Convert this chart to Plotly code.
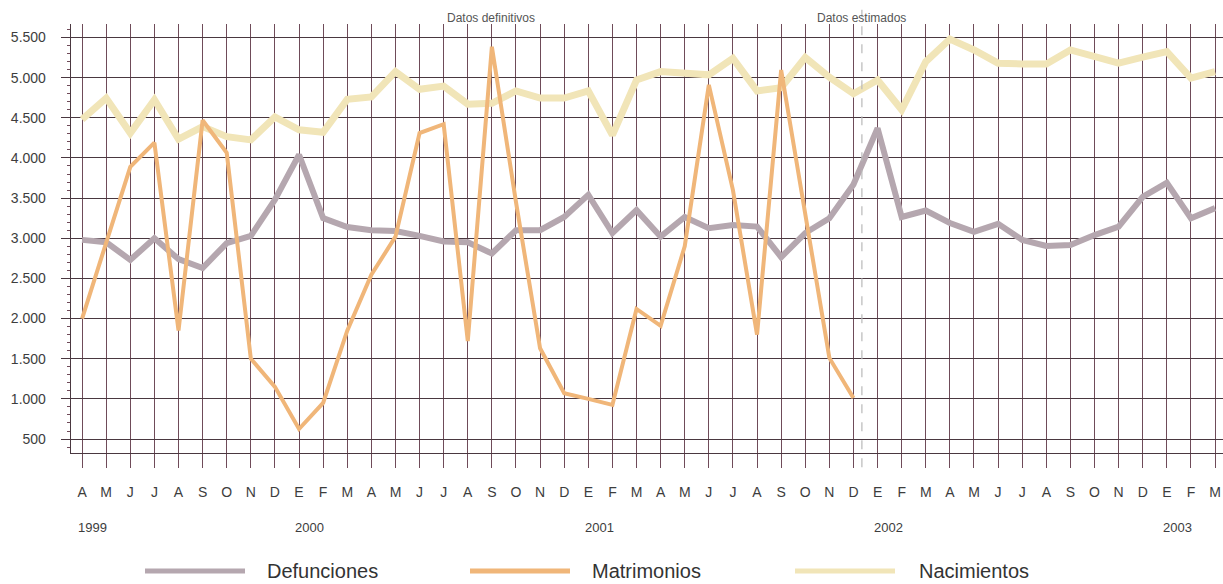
import plotly.graph_objects as go

# ---------------- data ----------------
months = ["A", "M", "J", "J", "A", "S", "O", "N", "D",
          "E", "F", "M", "A", "M", "J", "J", "A", "S", "O", "N", "D",
          "E", "F", "M", "A", "M", "J", "J", "A", "S", "O", "N", "D",
          "E", "F", "M", "A", "M", "J", "J", "A", "S", "O", "N", "D",
          "E", "F", "M"]

defunciones = [2980, 2950, 2730, 3000, 2740, 2630, 2940, 3030, 3480,
               4040, 3250, 3140, 3100, 3090, 3030, 2960, 2950, 2810, 3100, 3100, 3265,
               3540, 3065, 3350, 3020, 3265, 3125, 3165, 3145, 2765, 3065, 3250, 3670,
               4370, 3265, 3345, 3190, 3080, 3180, 2980, 2905, 2915, 3040, 3145, 3515,
               3690, 3250, 3375]

matrimonios = [2000, 2950, 3890, 4190, 1850, 4470, 4065, 1500, 1150,
               625, 950, 1850, 2545, 3020, 4310, 4420, 1720, 5385, 3450, 1630, 1070,
               1000, 925, 2120, 1910, 2900, 4910, 3600, 1800, 5095, 3300, 1510, 1010,
               None, None, None, None, None, None, None, None, None, None, None, None,
               None, None, None]

nacimientos = [4480, 4745, 4310, 4725, 4235, 4390, 4265, 4225, 4510,
               4350, 4320, 4730, 4760, 5075, 4855, 4895, 4670, 4680, 4835, 4745, 4745,
               4835, 4285, 4970, 5075, 5060, 5035, 5240, 4835, 4875, 5250, 5005, 4800,
               4970, 4600, 5200, 5480, 5345, 5180, 5170, 5170, 5345, 5255, 5180, 5255,
               5325, 4995, 5075]

years = ["1999", "2000", "2001", "2002", "2003"]
year_start_index = [0, 9, 21, 33, 45]

y_ticks = [500, 1000, 1500, 2000, 2500, 3000, 3500, 4000, 4500, 5000, 5500]
y_tick_text = ["500", "1.000", "1.500", "2.000", "2.500", "3.000",
               "3.500", "4.000", "4.500", "5.000", "5.500"]

series_names = ["Defunciones", "Matrimonios", "Nacimientos"]
series_colors = ["#b5a7af", "#f0b679", "#f1e5b8"]
series_widths = [6, 4, 7]

split_index = 32.35  # between "Datos definitivos" and "Datos estimados"
definitivos_label_index = 16.95

x = list(range(len(months)))

# ---------------- figure ----------------
fig = go.Figure()
series_values = [defunciones, nacimientos, matrimonios]
order = [0, 2, 1]
for k, vals in zip(order, series_values):
    fig.add_trace(go.Scatter(
        x=x, y=vals, mode="lines", name=series_names[k],
        line=dict(color=series_colors[k], width=series_widths[k]),
        connectgaps=False, showlegend=False, hoverinfo="skip"))

grid_v = "#6f4b59"
grid_h = "#4a3840"
text_col = "#3d3d3d"
font_family = "Liberation Sans, Arial, Helvetica, sans-serif"

fig.update_layout(
    width=1223, height=584,
    margin=dict(l=71, r=0, t=24, b=131, pad=0),
    paper_bgcolor="white", plot_bgcolor="white",
    font=dict(family=font_family, color=text_col),
    xaxis=dict(
        range=[-0.46, 47.33],
        tickmode="array", tickvals=x, ticktext=months,
        showgrid=True, gridcolor=grid_v, gridwidth=1,
        ticks="outside", ticklen=14, tickcolor=grid_v, tickwidth=1,
        ticklabelstandoff=12, ticklabeloverflow="allow",
        tickfont=dict(size=14, color=text_col),
        showline=True, linecolor=grid_h, linewidth=1.3,
        zeroline=False, fixedrange=True,
    ),
    yaxis=dict(
        range=[326, 5668],
        tickmode="array", tickvals=y_ticks, ticktext=y_tick_text,
        showgrid=True, gridcolor=grid_h, gridwidth=1,
        ticks="outside", ticklen=9, tickcolor=grid_h, tickwidth=1,
        ticklabelstandoff=12,
        tickfont=dict(size=14, color=text_col),
        showline=True, linecolor=grid_h, linewidth=1.3,
        minor=dict(dtick=100, tick0=0, ticks="outside", ticklen=3,
                   tickcolor=grid_v, tickwidth=1, showgrid=False),
        zeroline=False, fixedrange=True,
    ),
)

shapes = []
# dashed split line
shapes.append(dict(type="line", xref="x", yref="paper",
                   x0=split_index, x1=split_index, y0=-0.033, y1=1.033,
                   line=dict(color="#b9b9b9", width=1.2, dash="dash")))

annotations = []
narrow = "Liberation Sans Narrow, Arial Narrow, Liberation Sans, sans-serif"
annotations.append(dict(text="Datos definitivos", x=definitivos_label_index, y=1.014,
                        xref="x", yref="paper", showarrow=False,
                        xanchor="center", yanchor="middle",
                        font=dict(size=12, color="#555555", family=narrow)))
annotations.append(dict(text="Datos estimados", x=split_index, y=1.014,
                        xref="x", yref="paper", showarrow=False,
                        xanchor="center", yanchor="middle",
                        font=dict(size=12, color="#555555", family=narrow)))

for yr, idx in zip(years, year_start_index):
    annotations.append(dict(text=yr, x=idx + 0.45, y=-0.1725, xref="x", yref="paper",
                            showarrow=False, xanchor="center", yanchor="middle",
                            font=dict(size=13, color=text_col)))

# custom legend (long swatches as in the original); positions in window pixels
legend_swatch_px = [(145, 245), (470, 570), (795, 895)]
legend_text_px = [265, 590, 917]
plot_left, plot_width = 71, 1152
leg_y = -0.275
for k in range(3):
    x0p, x1p = legend_swatch_px[k]
    shapes.append(dict(type="line", xref="paper", yref="paper",
                       x0=(x0p - plot_left) / plot_width, x1=(x1p - plot_left) / plot_width,
                       y0=leg_y, y1=leg_y,
                       line=dict(color=series_colors[k], width=5)))
    annotations.append(dict(text=series_names[k],
                            x=(legend_text_px[k] - plot_left) / plot_width, y=leg_y,
                            xref="paper", yref="paper", showarrow=False,
                            xanchor="left", yanchor="middle",
                            font=dict(size=20, color="#333333")))

fig.update_layout(shapes=shapes, annotations=annotations)

# remove the browser's default 8px body margin so the 1223x584 figure fills the window
fig.write_html("out.html",
               config={"displayModeBar": False, "staticPlot": True},
               post_script="document.body.style.margin='0';"
                           "document.body.style.overflow='hidden';")
